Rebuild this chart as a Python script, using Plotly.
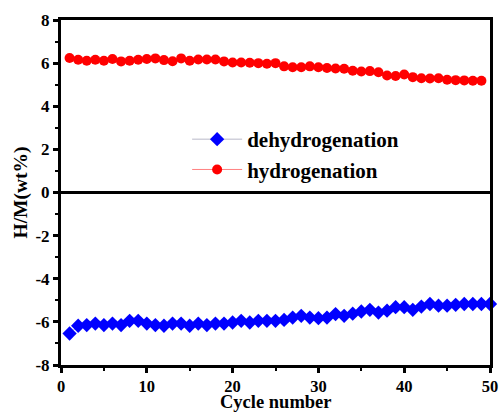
import plotly.graph_objects as go

cycles_dehyd = list(range(1, 51))
dehydrogenation = [-6.54, -6.18, -6.15, -6.08, -6.15, -6.08, -6.15, -5.95, -5.95, -6.08,
                   -6.15, -6.18, -6.08, -6.08, -6.18, -6.08, -6.15, -6.08, -6.08, -6.03,
                   -5.95, -6.03, -5.95, -5.95, -5.95, -5.91, -5.80, -5.72, -5.80, -5.83,
                   -5.80, -5.64, -5.72, -5.62, -5.52, -5.44, -5.57, -5.48, -5.32, -5.32,
                   -5.44, -5.29, -5.17, -5.25, -5.25, -5.21, -5.17, -5.17, -5.17, -5.17]

cycles_hyd = list(range(1, 50))
hydrogenation = [6.24, 6.16, 6.11, 6.16, 6.11, 6.19, 6.08, 6.11, 6.16, 6.19,
                 6.22, 6.14, 6.09, 6.22, 6.11, 6.17, 6.17, 6.17, 6.08, 6.03,
                 6.03, 6.02, 6.00, 5.97, 6.00, 5.85, 5.81, 5.81, 5.85, 5.81,
                 5.77, 5.75, 5.74, 5.65, 5.61, 5.63, 5.58, 5.43, 5.40, 5.47,
                 5.35, 5.30, 5.29, 5.30, 5.23, 5.21, 5.20, 5.18, 5.18]

x_ticks = [0, 10, 20, 30, 40, 50]
y_ticks = [-8, -6, -4, -2, 0, 2, 4, 6, 8]
y_tick_labels = ["-8", "-6", "-4", "-2", "0", "2", "4", "6", "8"]

FONT = "Liberation Serif, Times New Roman, serif"

fig = go.Figure()
fig.add_trace(go.Scatter(
    x=cycles_dehyd, y=dehydrogenation, mode="lines+markers", name="dehydrogenation",
    line=dict(color="#b8b8c8", width=1),
    marker=dict(symbol="diamond", size=11, color="#0000ff"),
    cliponaxis=False,
))
fig.add_trace(go.Scatter(
    x=cycles_hyd, y=hydrogenation, mode="lines+markers", name="hydrogenation",
    line=dict(color="#ff8080", width=1),
    marker=dict(symbol="circle", size=10, color="#ff0000"),
))

fig.update_layout(
    width=500, height=414,
    margin=dict(l=61, r=10, t=20, b=49),
    paper_bgcolor="white", plot_bgcolor="white",
    font=dict(family=FONT, size=17, color="black", weight="bold"),
    showlegend=True,
    legend=dict(x=0.294, y=0.713, xanchor="left", yanchor="top",
                bgcolor="rgba(0,0,0,0)", font=dict(size=21, family=FONT, weight="bold"),
                tracegroupgap=0, itemwidth=50),
    annotations=[dict(
        text="Cycle number", xref="paper", yref="paper", x=0.5, y=-0.142,
        xanchor="center", yanchor="bottom", showarrow=False,
        font=dict(size=18.5, family=FONT, weight="bold", color="black"),
    )],
)
fig.update_xaxes(
    range=[0, 50], tickvals=x_ticks, showgrid=False, zeroline=False, automargin=False,
    showline=True, linewidth=3, linecolor="black", mirror=True,
    ticks="outside", ticklen=5, tickwidth=3, tickcolor="black",
    minor=dict(dtick=5, ticks="outside", ticklen=3, tickwidth=2, tickcolor="black"),
    tickfont=dict(size=16.5, family=FONT, weight="bold"), ticklabelstandoff=-1,
)
fig.update_yaxes(
    range=[-8, 8], tickvals=y_ticks, ticktext=y_tick_labels, showgrid=False, automargin=False,
    zeroline=True, zerolinewidth=3, zerolinecolor="black",
    showline=True, linewidth=3, linecolor="black", mirror=True,
    ticks="outside", ticklen=5, tickwidth=3, tickcolor="black",
    minor=dict(dtick=1, ticks="outside", ticklen=3, tickwidth=2, tickcolor="black"),
    tickfont=dict(size=17, family=FONT, weight="bold"),
    title=dict(text="H/M(wt%)", font=dict(size=19.5, family=FONT, weight="bold"), standoff=3),
)

fig.write_html("out.html")
